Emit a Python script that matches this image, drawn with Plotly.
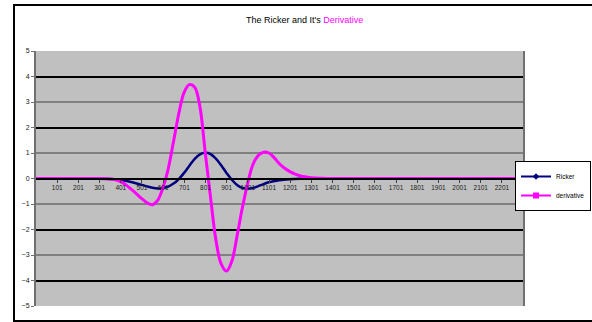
import plotly.graph_objects as go

# ---- data ----
ricker_x = [1, 300, 350, 400, 450, 500, 525, 550, 575, 600, 625, 650, 675, 700, 725, 750, 775, 800, 825, 850, 875, 900, 925, 950, 975, 1000, 1025, 1050, 1075, 1100, 1150, 1200, 1250, 1300, 2300]
ricker_y = [0, 0, -0.02, -0.06, -0.14, -0.25, -0.31, -0.36, -0.39, -0.38, -0.32, -0.20, -0.02, 0.22, 0.50, 0.77, 0.95, 1.01, 0.96, 0.78, 0.52, 0.22, -0.05, -0.25, -0.37, -0.40, -0.37, -0.30, -0.22, -0.15, -0.07, -0.03, -0.01, 0, 0]

deriv_x = [1, 300, 325, 350, 375, 400, 425, 450, 475, 500, 525, 550, 575, 600, 625, 650, 675, 700, 725, 750, 775, 800, 825, 850, 875, 900, 925, 950, 975, 1000, 1025, 1050, 1075, 1100, 1125, 1150, 1175, 1200, 1225, 1250, 1275, 1300, 1350, 1400, 2300]
deriv_y = [0, 0, -0.01, -0.02, -0.05, -0.12, -0.25, -0.42, -0.60, -0.79, -0.95, -1.03, -0.86, -0.36, 0.38, 1.45, 2.55, 3.38, 3.68, 3.58, 2.80, 1.00, -0.75, -2.40, -3.35, -3.63, -3.25, -2.25, -1.15, -0.20, 0.55, 0.90, 1.03, 1.00, 0.82, 0.58, 0.40, 0.27, 0.17, 0.10, 0.06, 0.03, 0.01, 0, 0]

x_tick_vals = list(range(101, 2202, 100))
x_tick_text = [str(v) for v in x_tick_vals]
y_tick_vals = list(range(-5, 6))
major_grid = [-4, -2, 2, 4]

series_names = ["Ricker", "derivative"]
series_colors = ["#000080", "#ff00ff"]

W, H = 592, 322
L, R, T, B = 36, 523, 51, 306  # plot area in px


def px_x(p):
    return (p - L) / (R - L)


def px_y(p):
    return (B - p) / (B - T)


FONT = "Liberation Sans, Arial, sans-serif"

fig = go.Figure()
fig.add_trace(go.Scatter(x=ricker_x, y=ricker_y, mode="lines", line=dict(color=series_colors[0], width=2.5, shape="spline", smoothing=1), showlegend=False, hoverinfo="skip"))
fig.add_trace(go.Scatter(x=deriv_x, y=deriv_y, mode="lines", line=dict(color=series_colors[1], width=3, shape="spline", smoothing=1), showlegend=False, hoverinfo="skip"))
# legend entries (line + marker, as in the Excel legend); they live on the overlay axis that carries the black gridlines
fig.add_trace(go.Scatter(x=[None], y=[None], yaxis="y2", mode="lines+markers", name=series_names[0], line=dict(color=series_colors[0], width=2), marker=dict(symbol="diamond", size=5, color=series_colors[0])))
fig.add_trace(go.Scatter(x=[None], y=[None], yaxis="y2", mode="lines+markers", name=series_names[1], line=dict(color=series_colors[1], width=2), marker=dict(symbol="square", size=6, color=series_colors[1])))

shapes = [
    # outer chart frame
    dict(type="rect", xref="paper", yref="paper", x0=px_x(14), x1=px_x(640), y0=px_y(5), y1=px_y(321),
         line=dict(color="black", width=2), fillcolor="rgba(0,0,0,0)", layer="above"),
]

fig.update_layout(
    width=W, height=H,
    margin=dict(l=L, r=W - R, t=T, b=H - B, pad=0, autoexpand=False),
    paper_bgcolor="white",
    plot_bgcolor="#c0c0c0",
    font=dict(family=FONT, size=7, color="black"),
    shapes=shapes,
    showlegend=True,
    legend=dict(x=px_x(591), y=px_y(161), xanchor="right", yanchor="top", bgcolor="white", bordercolor="black", borderwidth=1,
                font=dict(size=6.5, family=FONT), itemwidth=30, tracegroupgap=0),
    annotations=[dict(xref="paper", yref="paper", x=px_x(304), y=px_y(20), xanchor="center", yanchor="middle", showarrow=False,
                      text="The Ricker and It's <span style='color:#ff00ff'>Derivative</span>", font=dict(size=9, family=FONT, color="black"))],
)

fig.update_xaxes(
    range=[0.5, 2300.5], tickmode="array", tickvals=x_tick_vals, ticktext=x_tick_text,
    showgrid=False, zeroline=False, showline=True, linecolor="black", linewidth=2,
    anchor="free", position=0.5, ticks="outside", ticklen=3, tickcolor="#404040",
    tickfont=dict(size=6.5, family=FONT, color="#202020"),
)
fig.update_layout(
    yaxis=dict(
        range=[-5, 5], tickmode="array", tickvals=y_tick_vals,
        showgrid=True, gridcolor="#808080", gridwidth=2, zeroline=False,
        showline=True, linecolor="#707070", linewidth=2, mirror=True,
        ticks="outside", ticklen=3, tickcolor="#707070",
        tickfont=dict(size=7, family=FONT, color="#202020"),
    ),
    yaxis2=dict(
        overlaying="y", side="left", range=[-5, 5], tickmode="array", tickvals=major_grid,
        showgrid=True, gridcolor="black", gridwidth=2, zeroline=False, showline=False,
        showticklabels=False, ticks="",
    ),
)

fig.write_html("out.html", config={"displayModeBar": False},
               post_script="document.body.style.margin='0';document.body.style.overflow='hidden';")
